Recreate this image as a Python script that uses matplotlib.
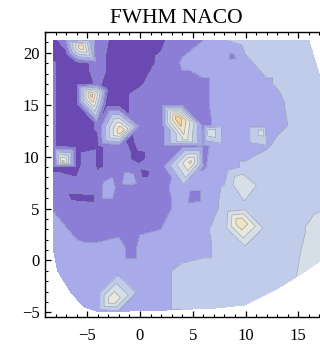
import numpy as np
import matplotlib
matplotlib.use("Agg")
import matplotlib.pyplot as plt
import matplotlib.tri as mtri
from matplotlib.ticker import MultipleLocator

plt.rcParams['font.family'] = ['Liberation Serif', 'DejaVu Serif']

# FWHM sampled on the detector field (arbitrary units, one contour step = 1)
# nan = no sample at that node
grid_x = [-8.2, -6, -4, -2, 0, 2, 4, 6, 8, 10, 12, 14, 16]
grid_y = [21.2, 19, 17, 15, 13, 11, 9, 7, 5, 3, 1, -1, -3]
nan = np.nan
grid_z = [
    [0.0, nan, 1.0, 0.0, 0.0, 0.3, 1.2, 1.5, 2.45, 3.0, 3.0, 3.0, 3.0],
    [0.55, 0.0, 0.8, 0.0, 0.0, 0.7, 1.6, 2.0, 2.0, 2.2, 3.0, 3.0, 3.0],
    [0.55, 0.0, 0.6, 0.0, 0.4, 1.0, 1.3, 1.3, 2.0, 2.0, 2.3, 3.0, 3.0],
    [0.55, 0.0, nan, 0.0, 1.0, 1.0, 1.0, 1.3, 2.0, 2.0, 2.0, 2.6, 3.0],
    [0.55, 0.0, 0.6, nan, 1.0, 1.0, nan, 1.2, 2.0, 2.0, 2.0, 2.5, 3.0],
    [0.55, 0.0, 0.3, 1.0, 0.8, 1.0, 1.2, 1.3, 2.0, 2.0, 2.4, 3.0, 3.0],
    [0.3, 0.0, 0.3, 1.0, 0.6, 1.0, nan, 1.4, 2.0, 2.7, 3.0, 3.0, 3.0],
    [1.0, 1.0, 1.0, 1.3, 1.2, 1.2, 2.0, 2.0, 2.6, nan, 3.0, 3.0, 3.0],
    [1.4, 1.0, 1.0, 1.0, 1.0, 1.2, 1.8, 2.0, 2.7, 3.2, 3.0, 3.0, 3.3],
    [2.0, 1.2, 1.0, 1.2, 1.3, 1.5, 2.0, 2.3, 3.0, nan, 3.0, 3.0, 3.6],
    [2.0, 1.8, 1.8, 2.0, 2.0, 2.0, 2.0, 2.2, 3.0, 3.0, 3.0, 3.0, 3.8],
    [nan, 2.0, 2.0, 2.0, 2.0, 2.2, 2.8, 3.0, 3.0, 3.0, 3.0, 3.2, nan],
    [nan, 2.0, 2.0, nan, 2.0, 2.2, 2.8, 3.0, 3.0, 3.0, 3.0, nan, nan],
]

# samples along the outer edge of the field
edge_x = [17.1, 17.8, 17.8, 17.6, 17.0, 15.1, 13.2, 11.3, 9.9, 7.0, 4.0, 2.0,
          0.0, -2.0, -4.0, -5.3, -6.6, -7.8, -7.0, -4.8]
edge_y = [17.5, 12.0, 7.0, 3.0, -0.1, -1.4, -2.6, -3.5, -4.3, -4.6, -4.7, -4.8,
          -4.8, -4.9, -4.9, -4.5, -3.0, -1.0, 21.2, 21.2]
edge_z = [3.0, 3.0, 3.0, 4.0, 4.0, 3.6, 3.0, 3.0, 3.0, 3.0, 2.8, 2.2,
          2.0, 2.3, 2.0, 2.0, 2.0, 2.0, 1.5, 2.5]

# individual stars: broad ones (high values) and sharp ones (low values)
star_x = [-5.6, -4.6, -1.8, 3.6, 4.3, 4.8, 6.6, 11.6, 9.5, 9.5, -7.3, -2.6,
          8.7, -1.0, -0.3, 0.3, -5.0, 5.5, -6.0, -4.5, -0.7, -0.9, -3.2,
          -7.0, -3.2, -3.0, 12.5]
star_y = [20.6, 15.9, 12.5, 13.7, 11.7, 9.5, 12.4, 12.4, 7.6, 3.7, 9.5, -3.8,
          19.6, 11.8, 10.2, 8.4, 9.4, 6.4, 6.1, 6.0, 1.3, 8.0, 7.0,
          19.8, 15.0, 16.5, 15.4]
star_z = [6.5, 7.0, 6.5, 7.5, 5.0, 5.8, 4.5, 4.0, 4.3, 6.5, 6.0, 5.5,
          1.2, 0.2, 0.2, 0.2, 1.2, 1.0, 0.2, 0.2, 1.0, 2.0, 2.0,
          0.0, 0.0, 0.2, 2.0]

levels = [-1, 0.5, 1.5, 2.5, 3.5, 4.5, 5.5, 6.5, 9]
level_colors = ['#6a49b3', '#8c7dd7', '#a9aaea', '#c1cbea', '#d6dfe8',
                '#e8e8dc', '#f2e2c4', '#f3cf94']

gx, gy = np.meshgrid(grid_x, grid_y)
gz = np.array(grid_z, dtype=float)
ok = ~np.isnan(gz)
x = np.concatenate([gx[ok], edge_x, star_x])
y = np.concatenate([gy[ok], edge_y, star_y])
z = np.concatenate([gz[ok], edge_z, star_z])
tri = mtri.Triangulation(x, y)

fig = plt.figure(figsize=(3.2, 3.49), dpi=100)
ax = fig.add_axes([45 / 320, 32 / 349, 285 / 320, 285 / 349])
ax.tricontourf(tri, z, levels=levels, colors=level_colors)
ax.tricontour(tri, z, levels=levels[1:-1], colors='#8289a0',
              linewidths=0.5, alpha=0.7)

ax.set_xlim(-9, 18)
ax.set_ylim(-5.45, 22)
ax.set_xticks([-5, 0, 5, 10, 15])
ax.set_yticks([-5, 0, 5, 10, 15, 20])
ax.xaxis.set_minor_locator(MultipleLocator(1))
ax.yaxis.set_minor_locator(MultipleLocator(1))
ax.tick_params(which='both', direction='in', top=True, right=True,
               colors='black', labelsize=12)
ax.tick_params(which='major', length=4.5, width=0.9)
ax.tick_params(which='minor', length=2.5, width=0.8)
ax.tick_params(axis='x', pad=8)
ax.tick_params(axis='y', pad=4)
for s in ax.spines.values():
    s.set_linewidth(1.0)

fig.text(176 / 320, 1 - 23 / 349, 'FWHM NACO', ha='center', va='baseline',
         fontsize=15.5)

fig.savefig('out.png', dpi=100, facecolor='white')
